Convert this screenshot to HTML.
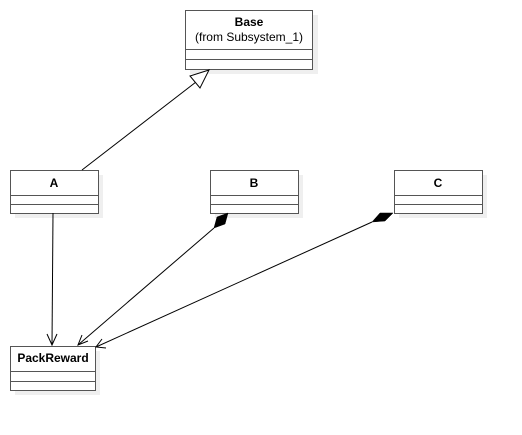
<!DOCTYPE html>
<html><head><style>
body{margin:0;background:#fff;width:522px;height:430px;overflow:hidden}
</style></head><body>
<svg width="522" height="430" xmlns="http://www.w3.org/2000/svg" font-family="Liberation Sans, sans-serif">
<g fill="#efefef">
<rect x="190" y="15" width="128" height="59"/>
<rect x="15" y="175" width="88" height="43"/>
<rect x="215" y="175" width="88" height="43"/>
<rect x="399" y="175" width="88" height="43"/>
<rect x="15" y="351" width="85" height="44"/>
</g>
<g fill="#fff" stroke="#555" stroke-width="1">
<rect x="185.5" y="10.5" width="127" height="59"/>
<line x1="185" y1="49.5" x2="313" y2="49.5"/><line x1="185" y1="59.5" x2="313" y2="59.5"/>
<rect x="10.5" y="170.5" width="88" height="43"/>
<line x1="10" y1="195.5" x2="99" y2="195.5"/><line x1="10" y1="204.5" x2="99" y2="204.5"/>
<rect x="210.5" y="170.5" width="88" height="43"/>
<line x1="210" y1="195.5" x2="299" y2="195.5"/><line x1="210" y1="204.5" x2="299" y2="204.5"/>
<rect x="394.5" y="170.5" width="88" height="43"/>
<line x1="394" y1="195.5" x2="483" y2="195.5"/><line x1="394" y1="204.5" x2="483" y2="204.5"/>
<rect x="10.5" y="346.5" width="85" height="44"/>
<line x1="10" y1="371.5" x2="96" y2="371.5"/><line x1="10" y1="381.5" x2="96" y2="381.5"/>
</g>
<g font-size="12" text-anchor="middle" fill="#000">
<text x="249" y="26" font-weight="bold">Base</text>
<text x="249" y="41">(from Subsystem_1)</text>
<text x="54" y="187" font-weight="bold">A</text>
<text x="254" y="187" font-weight="bold">B</text>
<text x="438" y="187" font-weight="bold">C</text>
<text x="53" y="362" font-weight="bold">PackReward</text>
</g>
<g stroke="#000" stroke-width="1" fill="none">
<line x1="82" y1="170" x2="196" y2="82"/>
<polygon points="209,70 190,76 200,88" fill="#fff"/>
<line x1="53" y1="213" x2="52" y2="345"/>
<polyline points="47,334 52,345 57,334"/>
<line x1="214" y1="228" x2="78" y2="345"/>
<polyline points="82,335 78,345 88,341"/>
<line x1="372" y1="222" x2="96" y2="347"/>
<polyline points="102,339 96,347 106,348"/>
</g>
<polygon points="228,213 217,217 214,228 225,224" fill="#000" stroke="#000" stroke-width="0.5"/>
<polygon points="393,213 380,213 372,222 385,221" fill="#000" stroke="#000" stroke-width="0.5"/>
</svg>
</body></html>
